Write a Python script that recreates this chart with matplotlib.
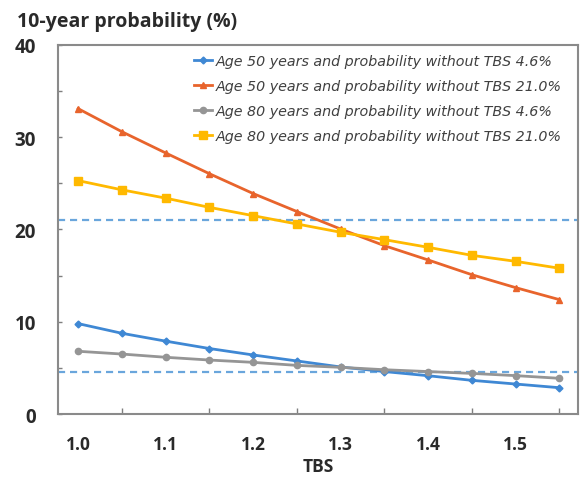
import matplotlib
matplotlib.use("Agg")
import matplotlib.pyplot as plt

tbs = [1.00, 1.05, 1.10, 1.15, 1.20, 1.25, 1.30, 1.35, 1.40, 1.45, 1.50, 1.55]
age50_46 = [9.8, 8.75, 7.9, 7.1, 6.4, 5.75, 5.1, 4.6, 4.15, 3.65, 3.25, 2.85]
age50_21 = [33.1, 30.6, 28.3, 26.05, 23.9, 21.95, 20.05, 18.25, 16.7, 15.1, 13.7, 12.4]
age80_46 = [6.8, 6.5, 6.15, 5.85, 5.6, 5.27, 5.06, 4.8, 4.6, 4.4, 4.16, 3.87]
age80_21 = [25.3, 24.3, 23.4, 22.4, 21.5, 20.6, 19.7, 18.9, 18.07, 17.2, 16.55, 15.8]
ref_levels = [4.6, 21.0]
labels = [
    "Age 50 years and probability without TBS 4.6%",
    "Age 50 years and probability without TBS 21.0%",
    "Age 80 years and probability without TBS 4.6%",
    "Age 80 years and probability without TBS 21.0%",
]
xticks = [1.0, 1.1, 1.2, 1.3, 1.4, 1.5]
yticks = [0, 10, 20, 30, 40]

fig = plt.figure(figsize=(5.81, 4.81), dpi=100)
ax = fig.add_axes([0.0998, 0.1372, 0.8945, 0.7672])

for lv in ref_levels:
    ax.axhline(lv, color="#6AA6DC", linestyle=(0, (3.2, 2.2)), linewidth=1.6, zorder=1)

series = [age50_46, age50_21, age80_46, age80_21]
colors = ["#3F88D4", "#E8642C", "#959595", "#FFB900"]
markers = ["D", "^", "o", "s"]
msizes = [3.5, 5, 4.5, 5.5]
for ys, c, m, ms, lb in zip(series, colors, markers, msizes, labels):
    ax.plot(tbs, ys, color=c, marker=m, markersize=ms, linewidth=2, label=lb, zorder=3)

tickfont = {"family": "Open Sans", "weight": "bold"}
ax.set_xlim(0.977, 1.571)
ax.set_ylim(0, 40)
ax.set_xticks(tbs, minor=True)
ax.set_xticks(xticks)
ax.set_yticks(yticks)
ax.set_yticks([5, 15, 25, 35], minor=True)
ax.tick_params(axis="x", which="major", direction="in", length=0, pad=15, colors="#7f7f7f", labelcolor="#2a2a2a")
ax.tick_params(axis="x", which="minor", direction="in", length=4, width=1, colors="#7f7f7f")
ax.tick_params(axis="y", which="both", direction="in", length=3, width=1, colors="#7f7f7f", pad=16, labelcolor="#2a2a2a")
ax.set_xticklabels([f"{v:.1f}" for v in xticks], fontdict=tickfont, fontsize=12.5)
ax.set_yticklabels([str(v) for v in yticks], fontdict=tickfont, fontsize=13.5)
for sp in ax.spines.values():
    sp.set_color("#8a8a8a")
    sp.set_linewidth(1.5)

ax.set_xlabel("TBS", fontsize=12.5, family="Open Sans", fontweight="bold", color="#2a2a2a", labelpad=3)
fig.text(17 / 581, 1 - 22 / 481, "10-year probability (%)", fontsize=14, family="Open Sans",
         fontweight="bold", ha="left", va="center", color="#2a2a2a")

leg = ax.legend(loc="upper right", bbox_to_anchor=(0.985, 1.0), frameon=False, handlelength=1.3,
                handletextpad=0.2, labelspacing=0.78, borderaxespad=0.2,
                prop={"style": "italic", "size": 10.3})
for t in leg.get_texts():
    t.set_color("#404040")

fig.savefig("out.png", dpi=100)
